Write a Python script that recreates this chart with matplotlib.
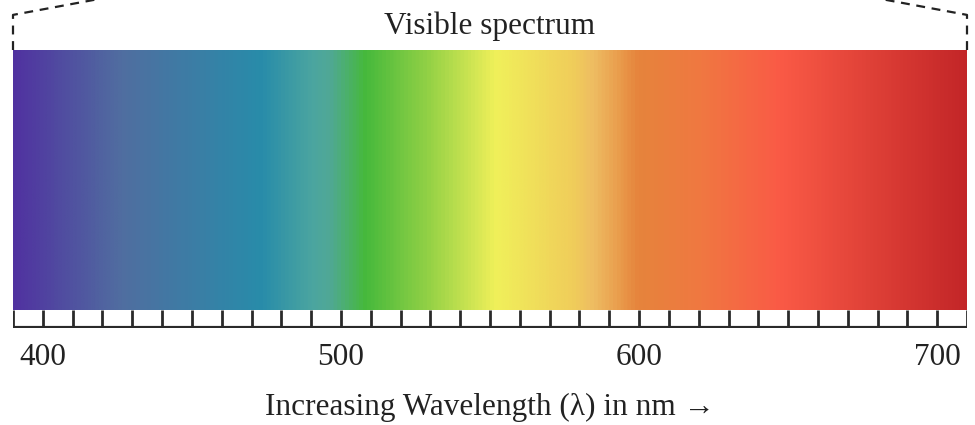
import numpy as np
import matplotlib
matplotlib.use('Agg')
import matplotlib.pyplot as plt
from matplotlib.colors import LinearSegmentedColormap
import matplotlib.transforms as mtransforms

# wavelength range shown and colour stops
wl_min, wl_max = 390, 710
stop_wl = [390, 426, 473, 490, 496, 508, 530, 552, 578, 585, 600, 621, 648, 710]
stop_rgb = [(80, 50, 160), (80, 110, 160), (40, 140, 170), (75, 165, 160),
            (80, 168, 150), (70, 185, 60), (150, 210, 70), (240, 240, 90),
            (240, 205, 90), (238, 188, 98), (230, 132, 60), (240, 120, 65),
            (250, 90, 70), (195, 38, 40)]
minor_ticks = list(range(390, 711, 10))
major_ticks = [400, 500, 600, 700]
tick_labels = ['400', '500', '600', '700']

serif = ['Liberation Serif', 'DejaVu Serif']
W, H = 975, 425
FS = 22.5

def main():
    fig = plt.figure(figsize=(W / 100, H / 100), dpi=100)

    pos = [(s - wl_min) / (wl_max - wl_min) for s in stop_wl]
    cmap = LinearSegmentedColormap.from_list(
        'spec', list(zip(pos, [tuple(c / 255 for c in rgb) for rgb in stop_rgb])))

    # spectrum band
    ax = fig.add_axes([13 / W, (H - 310) / H, 954 / W, 260 / H])
    grad = np.linspace(wl_min, wl_max, 1000).reshape(1, -1)
    ax.imshow(grad, cmap=cmap, vmin=wl_min, vmax=wl_max, aspect='auto',
              extent=[wl_min, wl_max, 0, 1])
    ax.set_xlim(wl_min, wl_max)
    ax.set_ylim(0, 1)
    ax.axis('off')

    # dashed zoom-in guides above the band
    tr = mtransforms.blended_transform_factory(ax.transData, ax.transAxes)
    ax.plot([wl_min, wl_min, wl_min + 40], [1, 1.135, 1.22], transform=tr,
            ls=(0, (4, 3)), color='#222222', lw=1.6, clip_on=False)
    ax.plot([wl_max, wl_max, wl_max - 40], [1, 1.135, 1.22], transform=tr,
            ls=(0, (4, 3)), color='#222222', lw=1.6, clip_on=False)
    ax.text(0.5, 1.09, 'Visible spectrum', transform=ax.transAxes,
            ha='center', va='center', fontsize=FS, family=serif, color='#222222')

    # tick strip
    ax2 = fig.add_axes([13 / W, (H - 328) / H, 954 / W, 18 / H])
    ax2.set_xlim(wl_min, wl_max)
    ax2.set_ylim(0, 1)
    ax2.vlines(minor_ticks, 0, 1, color='#2a2a2a', lw=2)
    ax2.axhline(0, color='#2a2a2a', lw=3)
    for s in ['top', 'left', 'right', 'bottom']:
        ax2.spines[s].set_visible(False)
    ax2.set_yticks([])
    ax2.set_xticks(major_ticks)
    ax2.set_xticklabels(tick_labels, family=serif, fontsize=FS, color='#222222')
    ax2.tick_params(axis='x', length=0, pad=11)
    ax2.set_xlabel('Increasing Wavelength (λ) in nm →', family=serif,
                   fontsize=FS, color='#222222', labelpad=15)

    fig.savefig('out.png', dpi=100)

if __name__ == '__main__':
    main()
